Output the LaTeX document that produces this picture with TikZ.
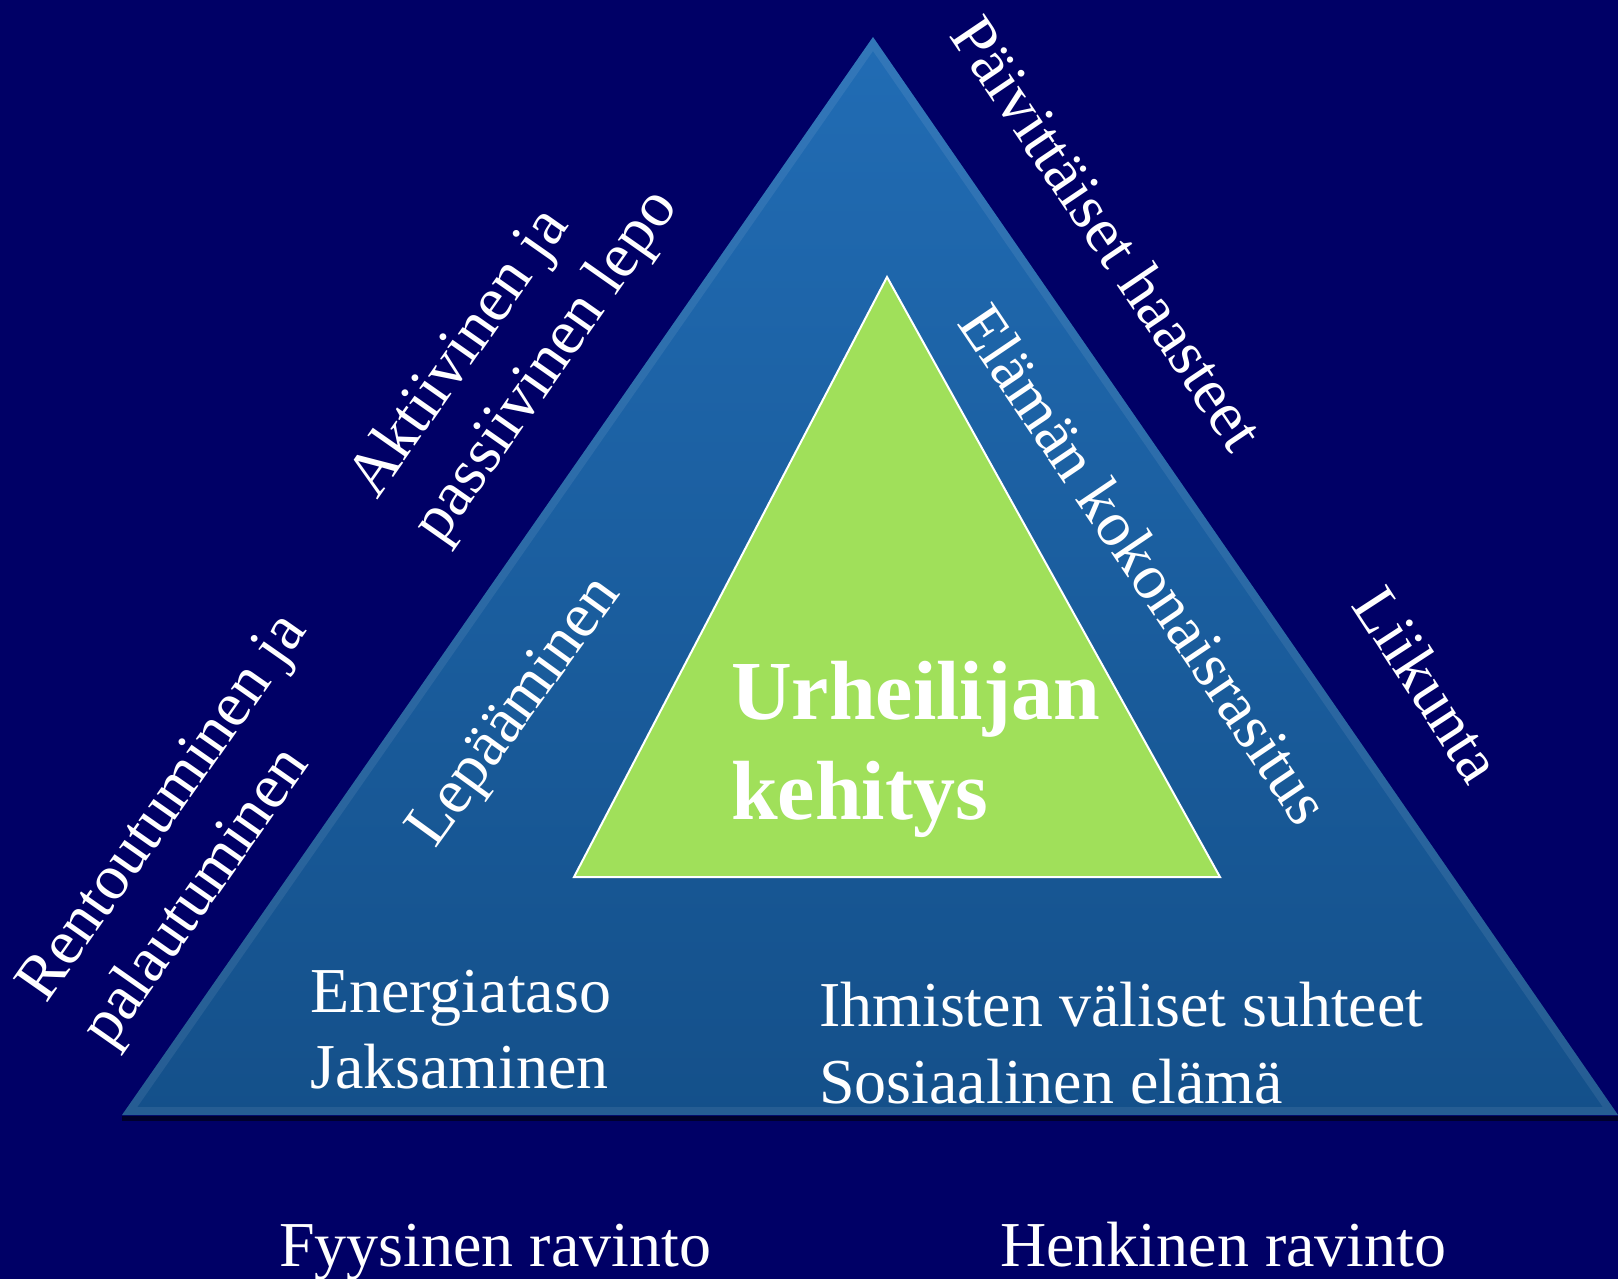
\documentclass[tikz,border=0pt]{standalone}
\usepackage{fontspec}
\setmainfont{Liberation Serif}
\definecolor{bg}{RGB}{0,0,102}
\definecolor{tritop}{RGB}{33,108,180}
\definecolor{tribot}{RGB}{20,80,138}
\definecolor{grn}{RGB}{160,224,90}
\begin{document}
\begin{tikzpicture}[x=1pt,y=-1pt,
  lbl/.style={text=white, inner sep=0pt, font=\fontsize{64}{75}\selectfont},
  bigbold/.style={text=white, inner sep=0pt, font=\fontsize{84}{98}\selectfont\bfseries}]
\fill[bg] (0,0) rectangle (1618,1279);
\useasboundingbox (0,0) rectangle (1618,1279);
% outer triangle
\coordinate (oA) at (873,37);
\coordinate (oL) at (122,1115);
\coordinate (oR) at (1618,1115);
\draw[black!80!bg, line width=5pt, opacity=0.7] ([yshift=-3pt]oL) -- ([yshift=-3pt]oR);
\shade[top color=tritop, bottom color=tribot] (oA) -- (oL) -- (oR) -- cycle;
\begin{scope}
  \clip (oA) -- (oL) -- (oR) -- cycle;
  \draw[white, opacity=0.08, line width=16pt, line join=miter] (oA) -- (oL) -- (oR) -- cycle;
\end{scope}
% inner triangle
\coordinate (iA) at (887,277);
\coordinate (iL) at (574,877);
\coordinate (iR) at (1220,877);
\filldraw[fill=grn, draw=white, line width=2pt] (iA) -- (iL) -- (iR) -- cycle;
% texts
\node[bigbold, anchor=base west] (urh) at (731,719) {Urheilijan};
\node[bigbold, anchor=base west] (keh) at (731,819) {kehitys};
\node[lbl, anchor=base west] (energia) at (310,1012) {Energiataso};
\node[lbl, anchor=base west] (jaks) at (310,1088) {Jaksaminen};
\node[lbl, anchor=base west] (ihm) at (819,1026) {Ihmisten väliset suhteet};
\node[lbl, anchor=base west] (sos) at (819,1103) {Sosiaalinen elämä};
\node[lbl, anchor=base west] (fyys) at (279,1266) {Fyysinen ravinto};
\node[lbl, anchor=base west] (henk) at (1000,1266) {Henkinen ravinto};
\node[lbl, rotate=55, anchor=base west] (akt1) at (377,501) {Aktiivinen ja};
\node[lbl, rotate=55, anchor=base west] (akt2) at (441,546) {passiivinen lepo};
\node[lbl, rotate=55, anchor=base west] (rent1) at (46,1005) {Rentoutuminen ja};
\node[lbl, rotate=55, anchor=base west] (rent2) at (110,1050) {palautuminen};
\node[lbl, rotate=54, anchor=base] (lepa) at (528,722) {Lepääminen};
\node[lbl, rotate=-56, anchor=base] (paiv) at (1090,245) {Päivittäiset haasteet};
\node[lbl, rotate=-56, anchor=base] (elam) at (1127,576) {Elämän kokonaisrasitus};
\node[lbl, rotate=-57, anchor=base] (liik) at (1410,696) {Liikunta};
\end{tikzpicture}
\end{document}
